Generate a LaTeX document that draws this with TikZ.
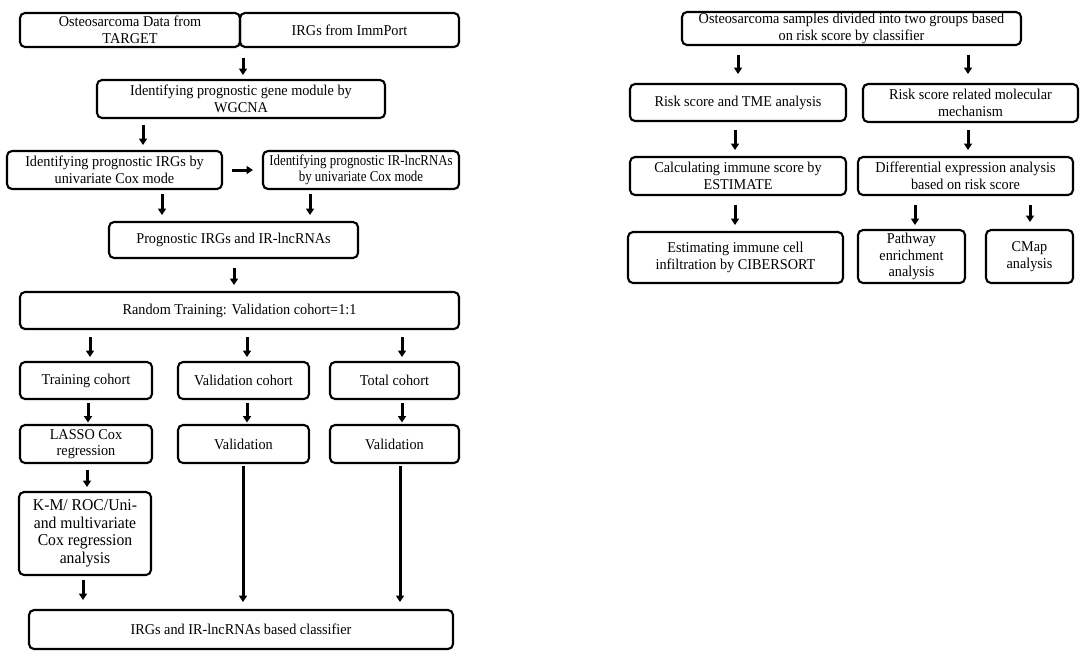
\documentclass[tikz,border=0pt]{standalone}
\usepackage{fontspec}
\setmainfont{Liberation Serif}[FakeStretch=0.95]
\usetikzlibrary{arrows.meta}
\begin{document}
\begin{tikzpicture}[x=1pt,y=-1pt,
  box/.style={draw=black, line width=2.1pt, rounded corners=5pt, inner sep=0pt, outer sep=0pt,
    align=center, font=\fontsize{15}{16.5}\selectfont},
  arr/.style={line width=3pt, -{Triangle[width=8pt,length=6.5pt]}}]
\useasboundingbox (0,0) rectangle (1084,657);
% left column
\node[box, minimum width=220, minimum height=34] (A) at (130,30) {Osteosarcoma Data from\\TARGET};
\node[box, minimum width=219, minimum height=34] (B) at (349.5,30) {IRGs from ImmPort};
\node[box, minimum width=288, minimum height=38] (C) at (241,99) {Identifying prognostic gene module by\\WGCNA};
\node[box, minimum width=215, minimum height=38] (D) at (114.5,170) {Identifying prognostic IRGs by\\univariate Cox mode};
\node[box, minimum width=196, minimum height=38, font=\fontsize{15}{16.5}\selectfont\addfontfeature{FakeStretch=0.86}] (E) at (361,170) {Identifying prognostic IR-lncRNAs\\by univariate Cox mode};
\node[box, minimum width=249, minimum height=36] (F) at (233.5,240) {Prognostic IRGs and IR-lncRNAs};
\node[box, minimum width=439, minimum height=37] (G) at (239.5,310.5) {Random Training: Validation cohort=1:1};
\node[box, minimum width=132, minimum height=37] (H) at (86,380.5) {Training cohort};
\node[box, minimum width=131, minimum height=37] (I) at (243.5,380.5) {Validation cohort};
\node[box, minimum width=129, minimum height=37] (J) at (394.5,380.5) {Total cohort};
\node[box, minimum width=132, minimum height=38] (K) at (86,444) {LASSO Cox\\regression};
\node[box, minimum width=131, minimum height=38] (L) at (243.5,444) {Validation};
\node[box, minimum width=129, minimum height=38] (M) at (394.5,444) {Validation};
\node[box, minimum width=132, minimum height=83, font=\fontsize{16.5}{17.5}\selectfont] (N) at (85,533.5) {K-M/ ROC/Uni-\\and multivariate\\Cox regression\\analysis};
\node[box, minimum width=424, minimum height=39] (O) at (241,629.5) {IRGs and IR-lncRNAs based classifier};
% right column
\node[box, minimum width=339, minimum height=33] (P) at (851.5,28.5) {Osteosarcoma samples divided into two groups based\\on risk score by classifier};
\node[box, minimum width=216, minimum height=37] (Q) at (738,102.5) {Risk score and TME analysis};
\node[box, minimum width=215, minimum height=38] (R) at (970.5,103) {Risk score related molecular\\mechanism};
\node[box, minimum width=216, minimum height=38] (S) at (738,176) {Calculating immune score by\\ESTIMATE};
\node[box, minimum width=215, minimum height=38] (T) at (965.5,176) {Differential expression analysis\\based on risk score};
\node[box, minimum width=215, minimum height=51] (U) at (735.5,257.5) {Estimating immune cell\\infiltration by CIBERSORT};
\node[box, minimum width=107, minimum height=53] (V) at (911.5,256.5) {Pathway\\enrichment\\analysis};
\node[box, minimum width=87, minimum height=53] (W) at (1029.5,256.5) {CMap\\analysis};
% connectors left
\draw[arr, shorten <=11pt, shorten >=5pt] (B.south -| 243,0) -- (C.north -| 243,0);
\draw[arr, shorten <=7pt, shorten >=6pt] (C.south -| 143,0) -- (D.north -| 143,0);
\draw[arr, shorten <=10pt, shorten >=10pt] (D.east) -- (E.west);
\draw[arr, shorten <=5pt, shorten >=7pt] (D.south -| 162,0) -- (F.north -| 162,0);
\draw[arr, shorten <=5pt, shorten >=7pt] (E.south -| 310,0) -- (F.north -| 310,0);
\draw[arr, shorten <=10pt, shorten >=7pt] (F.south -| 234,0) -- (G.north -| 234,0);
\draw[arr, shorten <=8pt, shorten >=5pt] (G.south -| 90,0) -- (H.north -| 90,0);
\draw[arr, shorten <=8pt, shorten >=5pt] (G.south -| 247,0) -- (I.north -| 247,0);
\draw[arr, shorten <=8pt, shorten >=5pt] (G.south -| 402,0) -- (J.north -| 402,0);
\draw[arr, shorten <=4pt, shorten >=2.5pt] (H.south -| 88,0) -- (K.north -| 88,0);
\draw[arr, shorten <=4pt, shorten >=2.5pt] (I.south -| 247,0) -- (L.north -| 247,0);
\draw[arr, shorten <=4pt, shorten >=2.5pt] (J.south -| 402,0) -- (M.north -| 402,0);
\draw[arr, shorten <=7pt, shorten >=5pt] (K.south -| 87,0) -- (N.north -| 87,0);
\draw[arr, shorten <=5pt, shorten >=10pt] (N.south -| 83,0) -- (O.north -| 83,0);
\draw[arr, shorten <=3pt, shorten >=8pt] (L.south -| 243,0) -- (O.north -| 243,0);
\draw[arr, shorten <=3pt, shorten >=8pt] (M.south -| 400,0) -- (O.north -| 400,0);
% connectors right
\draw[arr, shorten <=10pt, shorten >=10pt] (P.south -| 738,0) -- (Q.north -| 738,0);
\draw[arr, shorten <=10pt, shorten >=10pt] (P.south -| 968,0) -- (R.north -| 968,0);
\draw[arr, shorten <=9pt, shorten >=7pt] (Q.south -| 735,0) -- (S.north -| 735,0);
\draw[arr, shorten <=8pt, shorten >=7pt] (R.south -| 968,0) -- (T.north -| 968,0);
\draw[arr, shorten <=10pt, shorten >=7pt] (S.south -| 735,0) -- (U.north -| 735,0);
\draw[arr, shorten <=10pt, shorten >=5pt] (T.south -| 915,0) -- (V.north -| 915,0);
\draw[arr, shorten <=10pt, shorten >=8pt] (T.south -| 1030,0) -- (W.north -| 1030,0);
\end{tikzpicture}
\end{document}
